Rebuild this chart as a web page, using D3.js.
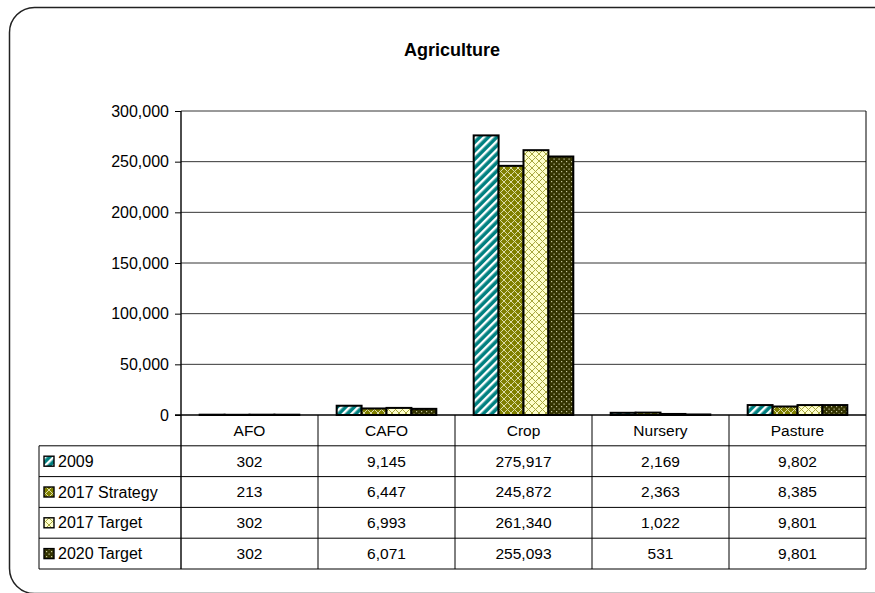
<!DOCTYPE html>
<html>
<head>
<meta charset="utf-8">
<script src="https://cdn.jsdelivr.net/npm/d3@7"></script>
<style>
  body { margin: 0; background: #fff; }
  text { font-family: "Liberation Sans", Arial, sans-serif; fill: #000; }
</style>
</head>
<body>
<div id="chart"></div>
<script>
const categories = ["AFO", "CAFO", "Crop", "Nursery", "Pasture"];
const seriesNames = ["2009", "2017 Strategy", "2017 Target", "2020 Target"];
const values2009 = [302, 9145, 275917, 2169, 9802];
const values2017Strategy = [213, 6447, 245872, 2363, 8385];
const values2017Target = [302, 6993, 261340, 1022, 9801];
const values2020Target = [302, 6071, 255093, 531, 9801];
const yTicks = [0, 50000, 100000, 150000, 200000, 250000, 300000];

const seriesValues = [values2009, values2017Strategy, values2017Target, values2020Target];
const patternIds = ["p2009", "pStrategy", "pTarget", "p2020"];

const width = 875;
const height = 593;
const plotLeft = 181, plotRight = 866, plotTop = 111, plotBottom = 415;
const tableLeft = 39;
const rowH = 30.8;
const fontSize = "15.5px";

const svg = d3.select("#chart")
    .append("svg")
    .attr("width", width)
    .attr("height", height);

// patterns for the bar fills
const defs = svg.append("defs");

const p1 = defs.append("pattern")
    .attr("id", "p2009")
    .attr("patternUnits", "userSpaceOnUse")
    .attr("width", 6).attr("height", 6)
    .attr("patternTransform", "rotate(45)");
p1.append("rect").attr("width", 6).attr("height", 6).attr("fill", "#008080");
p1.append("rect").attr("x", 0).attr("width", 2.4).attr("height", 6).attr("fill", "#fff");

function crossPattern(id, bg, line) {
    const p = defs.append("pattern")
        .attr("id", id)
        .attr("patternUnits", "userSpaceOnUse")
        .attr("width", 7).attr("height", 7);
    p.append("rect").attr("width", 7).attr("height", 7).attr("fill", bg);
    p.append("path")
        .attr("d", "M0,0L7,7M7,0L0,7M-1,6L1,8M6,-1L8,1")
        .attr("stroke", line)
        .attr("stroke-width", 1);
}
crossPattern("pStrategy", "#808000", "#dcdca8");
crossPattern("pTarget", "#ffffcc", "#a8a840");

const p4 = defs.append("pattern")
    .attr("id", "p2020")
    .attr("patternUnits", "userSpaceOnUse")
    .attr("width", 5).attr("height", 5);
p4.append("rect").attr("width", 5).attr("height", 5).attr("fill", "#333300");
p4.append("rect").attr("x", 1).attr("y", 1).attr("width", 1.2).attr("height", 1.2).attr("fill", "#c8c8a0");
p4.append("rect").attr("x", 3.5).attr("y", 3.5).attr("width", 1.2).attr("height", 1.2).attr("fill", "#c8c8a0");

// outer rounded border (cut off at the right and bottom)
svg.append("rect")
    .attr("x", 9.5).attr("y", 7.5)
    .attr("width", 888).attr("height", 586)
    .attr("rx", 25).attr("ry", 25)
    .attr("fill", "none")
    .attr("stroke", "#222")
    .attr("stroke-width", 1.5);

svg.append("text")
    .attr("x", 452)
    .attr("y", 56)
    .attr("text-anchor", "middle")
    .style("font-size", "18px")
    .style("font-weight", "bold")
    .text("Agriculture");

const xScale = d3.scaleBand()
    .domain(categories)
    .range([plotLeft, plotRight]);

const xInner = d3.scaleBand()
    .domain(seriesNames)
    .range([0, xScale.bandwidth()])
    .paddingInner(0)
    .paddingOuter(0.75);

const yScale = d3.scaleLinear()
    .domain([0, 300000])
    .range([plotBottom, plotTop]);

// gridlines
svg.append("g")
    .selectAll("line")
    .data(yTicks.slice(1))
    .enter().append("line")
    .attr("x1", plotLeft).attr("x2", plotRight)
    .attr("y1", d => yScale(d)).attr("y2", d => yScale(d))
    .attr("stroke", "#000")
    .attr("stroke-width", 0.8);

// y axis
const yAxis = d3.axisLeft(yScale)
    .tickValues(yTicks)
    .tickSize(6)
    .tickPadding(6)
    .tickFormat(d3.format(","));

const yAxisG = svg.append("g")
    .attr("transform", "translate(" + plotLeft + ",0)")
    .call(yAxis);
yAxisG.select(".domain").remove();
yAxisG.selectAll(".tick line").attr("stroke", "#000");
yAxisG.selectAll(".tick text")
    .style("font-size", "16px")
    .style("font-family", "Liberation Sans, Arial, sans-serif");

// bars
const groups = svg.append("g")
    .selectAll("g")
    .data(seriesValues)
    .enter().append("g")
    .attr("fill", (d, i) => "url(#" + patternIds[i] + ")");

groups.each(function (vals, si) {
    d3.select(this).selectAll("rect")
        .data(vals)
        .enter().append("rect")
        .attr("x", (d, ci) => xScale(categories[ci]) + xInner(seriesNames[si]))
        .attr("y", d => yScale(d))
        .attr("width", xInner.bandwidth())
        .attr("height", d => plotBottom - yScale(d))
        .attr("stroke", "#000")
        .attr("stroke-width", 2);
});

// table lines
const rowsY = d3.range(6).map(i => plotBottom + i * rowH);
const tableBottom = rowsY[5];

const lines = svg.append("g").attr("stroke", "#000").attr("stroke-width", 1);
lines.selectAll(".hrow")
    .data(rowsY.slice(1))
    .enter().append("line")
    .attr("x1", tableLeft).attr("x2", plotRight)
    .attr("y1", d => d).attr("y2", d => d);
lines.append("line")
    .attr("x1", plotLeft - 6).attr("x2", plotRight)
    .attr("y1", plotBottom).attr("y2", plotBottom)
    .attr("stroke-width", 1.4);
lines.append("line")
    .attr("x1", tableLeft).attr("x2", tableLeft)
    .attr("y1", rowsY[1]).attr("y2", tableBottom);
lines.append("line")
    .attr("x1", plotLeft).attr("x2", plotLeft)
    .attr("y1", plotTop).attr("y2", tableBottom)
    .attr("stroke-width", 1.4);
lines.selectAll(".vcat")
    .data(categories.slice(1))
    .enter().append("line")
    .attr("x1", d => xScale(d)).attr("x2", d => xScale(d))
    .attr("y1", plotBottom).attr("y2", tableBottom);
lines.append("line")
    .attr("x1", plotRight).attr("x2", plotRight)
    .attr("y1", plotTop).attr("y2", tableBottom);

// header row
svg.append("g")
    .selectAll("text")
    .data(categories)
    .enter().append("text")
    .attr("x", d => xScale(d) + xScale.bandwidth() / 2)
    .attr("y", plotBottom + rowH / 2)
    .attr("dy", "0.35em")
    .attr("text-anchor", "middle")
    .style("font-size", fontSize)
    .text(d => d);

// value rows
const fmt = d3.format(",");
seriesValues.forEach((vals, si) => {
    const cy = rowsY[si + 1] + rowH / 2;
    const row = svg.append("g");
    row.selectAll("text")
        .data(vals)
        .enter().append("text")
        .attr("x", (d, ci) => xScale(categories[ci]) + xScale.bandwidth() / 2)
        .attr("y", cy)
        .attr("dy", "0.35em")
        .attr("text-anchor", "middle")
        .style("font-size", fontSize)
        .text(d => fmt(d));

    row.append("rect")
        .attr("x", 44).attr("y", cy - 5)
        .attr("width", 10).attr("height", 10)
        .attr("fill", "url(#" + patternIds[si] + ")")
        .attr("stroke", "#000")
        .attr("stroke-width", 1.4);

    row.append("text")
        .attr("x", 58)
        .attr("y", cy)
        .attr("dy", "0.35em")
        .style("font-size", "16px")
        .text(seriesNames[si]);
});
</script>
</body>
</html>
